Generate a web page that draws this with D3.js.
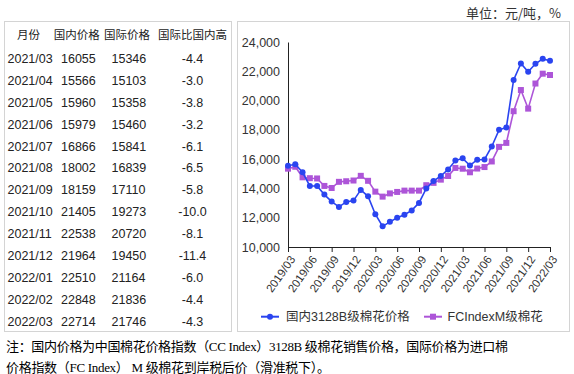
<!DOCTYPE html>
<html><head><meta charset="utf-8">
<script src="https://cdn.jsdelivr.net/npm/d3@7/dist/d3.min.js"></script>
<style>body{margin:0;background:#fff} svg{display:block}</style>
</head><body><svg id="c" width="574" height="374"></svg>
<script>
// ---- chart data ----
const months = ["2019/03","2019/04","2019/05","2019/06","2019/07","2019/08","2019/09","2019/10","2019/11","2019/12",
  "2020/01","2020/02","2020/03","2020/04","2020/05","2020/06","2020/07","2020/08","2020/09","2020/10","2020/11","2020/12",
  "2021/01","2021/02","2021/03","2021/04","2021/05","2021/06","2021/07","2021/08","2021/09","2021/10","2021/11","2021/12",
  "2022/01","2022/02","2022/03"];
const domestic = [15550,15650,15100,14170,14170,13580,13100,12740,13080,13170,13900,13460,12240,11410,11720,12000,12200,12500,13010,14000,14500,14850,15300,15900,16055,15566,15960,15979,16866,18002,18159,21405,22538,21964,22510,22848,22714];
const intl = [15350,15480,14760,14700,14680,14170,14030,14450,14490,14540,14860,14520,13780,13440,13660,13760,13850,13850,13850,14220,14380,14600,14850,15400,15346,15103,15358,15460,15841,16839,17110,19273,20720,19450,21164,21836,21746];
const xTickLabels = ["2019/03","2019/06","2019/09","2019/12","2020/03","2020/06","2020/09","2020/12","2021/03","2021/06","2021/09","2021/12","2022/03"];
const yTickValues = [10000,12000,14000,16000,18000,20000,22000,24000];
const seriesNames = ["国内3128B级棉花价格","FCIndexM级棉花"];

// ---- table data ----
const tableHeader = ["月份","国内价格","国际价格","国际比国内高"];
const tableMonths = ["2021/03","2021/04","2021/05","2021/06","2021/07","2021/08","2021/09","2021/10","2021/11","2021/12","2022/01","2022/02","2022/03"];
const tableDomestic = ["16055","15566","15960","15979","16866","18002","18159","21405","22538","21964","22510","22848","22714"];
const tableIntl = ["15346","15103","15358","15460","15841","16839","17110","19273","20720","19450","21164","21836","21746"];
const tableDiff = ["-4.4","-3.0","-3.8","-3.2","-6.1","-6.5","-5.8","-10.0","-8.1","-11.4","-6.0","-4.4","-4.3"];

const unitText = "单位：元/吨，%";
const noteLines = ["注：国内价格为中国棉花价格指数（CC Index）3128B 级棉花销售价格，国际价格为进口棉",
                   "价格指数（FC Index） M 级棉花到岸税后价（滑准税下）。"];

const svg = d3.select("#c");
const SANS = "'Liberation Sans','Noto Sans CJK SC',sans-serif";
const CJK = "'Noto Sans CJK SC','Liberation Sans',sans-serif";
const SERIF = "'Liberation Serif','Noto Sans CJK SC',serif";
const blue = "#2a44f0", purple = "#ad55d8";

// unit label
svg.append("text").attr("x",561).attr("y",18).attr("text-anchor","end")
  .attr("font-family",CJK).attr("font-size",13).attr("fill","#333").text(unitText);

// boxes
svg.append("rect").attr("x",4.5).attr("y",21.5).attr("width",227).attr("height",310)
  .attr("fill","none").attr("stroke","#d4d4d4");
svg.append("rect").attr("x",237.5).attr("y",21.5).attr("width",332).attr("height",310)
  .attr("fill","none").attr("stroke","#d4d4d4");

// ---- table ----
const tg = svg.append("g");
const headerX = [28.5,76.7,127,192.5];
tableHeader.forEach((h,i)=>{
  tg.append("text").attr("x",headerX[i]).attr("y",35).attr("dy","0.36em").attr("text-anchor","middle")
    .attr("font-family",CJK).attr("font-size",11.5).attr("fill","#222").text(h);
});
const rowY = d3.scaleLinear().domain([0,12]).range([58.3,321.5]);
tableMonths.forEach((m,i)=>{
  const y = rowY(i);
  const row = tg.append("g").attr("font-family",SANS).attr("font-size",12.5).attr("fill","#222");
  row.append("text").attr("x",7.5).attr("y",y).attr("dy","0.36em").text(m);
  row.append("text").attr("x",61).attr("y",y).attr("dy","0.36em").text(tableDomestic[i]);
  row.append("text").attr("x",111.5).attr("y",y).attr("dy","0.36em").text(tableIntl[i]);
  row.append("text").attr("x",192.5).attr("y",y).attr("dy","0.36em").attr("text-anchor","middle").text(tableDiff[i]);
});

// ---- chart ----
const x = d3.scalePoint().domain(months).range([288,550]);
const y = d3.scaleLinear().domain([10000,24000]).range([247,42]);

const yAxis = svg.append("g").attr("transform","translate(288,0)")
  .call(d3.axisLeft(y).tickValues(yTickValues).tickFormat(d3.format(",")).tickSize(0).tickPadding(8));
yAxis.select(".domain").attr("stroke","#222").attr("stroke-width",1);
yAxis.selectAll("text").attr("font-family",SANS).attr("font-size",12.5).attr("fill","#333");

const xAxis = svg.append("g").attr("transform","translate(0,247)")
  .call(d3.axisBottom(x).tickValues(xTickLabels).tickSize(5).tickSizeOuter(0));
xAxis.select(".domain").attr("stroke","#222");
xAxis.selectAll(".tick line").attr("stroke","#222");
xAxis.selectAll("text").attr("font-family",SANS).attr("font-size",11.5).attr("fill","#333")
  .attr("text-anchor","end").attr("dy","0.35em").attr("y",0)
  .attr("transform","translate(4,10) rotate(-55)");

const line = d3.line().x((d,i)=>x(months[i])).y(d=>y(d));
svg.append("path").datum(intl).attr("d",line).attr("fill","none").attr("stroke",purple).attr("stroke-width",1.6);
svg.append("g").selectAll("rect").data(intl).join("rect")
  .attr("x",(d,i)=>x(months[i])-3).attr("y",d=>y(d)-3).attr("width",6).attr("height",6).attr("fill",purple);
svg.append("path").datum(domestic).attr("d",line).attr("fill","none").attr("stroke",blue).attr("stroke-width",1.6);
svg.append("g").selectAll("circle").data(domestic).join("circle")
  .attr("cx",(d,i)=>x(months[i])).attr("cy",d=>y(d)).attr("r",3).attr("fill",blue);

// legend
const lg = svg.append("g");
const ly = 316.7;
lg.append("line").attr("x1",261).attr("x2",279).attr("y1",ly).attr("y2",ly).attr("stroke",blue).attr("stroke-width",2);
lg.append("circle").attr("cx",270).attr("cy",ly).attr("r",3).attr("fill",blue);
lg.append("text").attr("x",286).attr("y",ly).attr("dy","0.36em").attr("font-family",SANS).attr("font-size",12.5).attr("fill","#333").text(seriesNames[0]);
lg.append("line").attr("x1",424).attr("x2",442).attr("y1",ly).attr("y2",ly).attr("stroke",purple).attr("stroke-width",2);
lg.append("rect").attr("x",430).attr("y",ly-3).attr("width",6).attr("height",6).attr("fill",purple);
lg.append("text").attr("x",447.5).attr("y",ly).attr("dy","0.36em").attr("font-family",SANS).attr("font-size",12.5).attr("fill","#333").text(seriesNames[1]);

// footnote
svg.append("text").attr("x",6).attr("y",350.5).attr("font-family",SERIF).attr("font-size",13).attr("fill","#000")
  .attr("textLength",502).attr("lengthAdjust","spacing").text(noteLines[0]);
svg.append("text").attr("x",6).attr("y",371.5).attr("font-family",SERIF).attr("font-size",13).attr("fill","#000")
  .attr("textLength",324).attr("lengthAdjust","spacing").text(noteLines[1]);
</script></body></html>
